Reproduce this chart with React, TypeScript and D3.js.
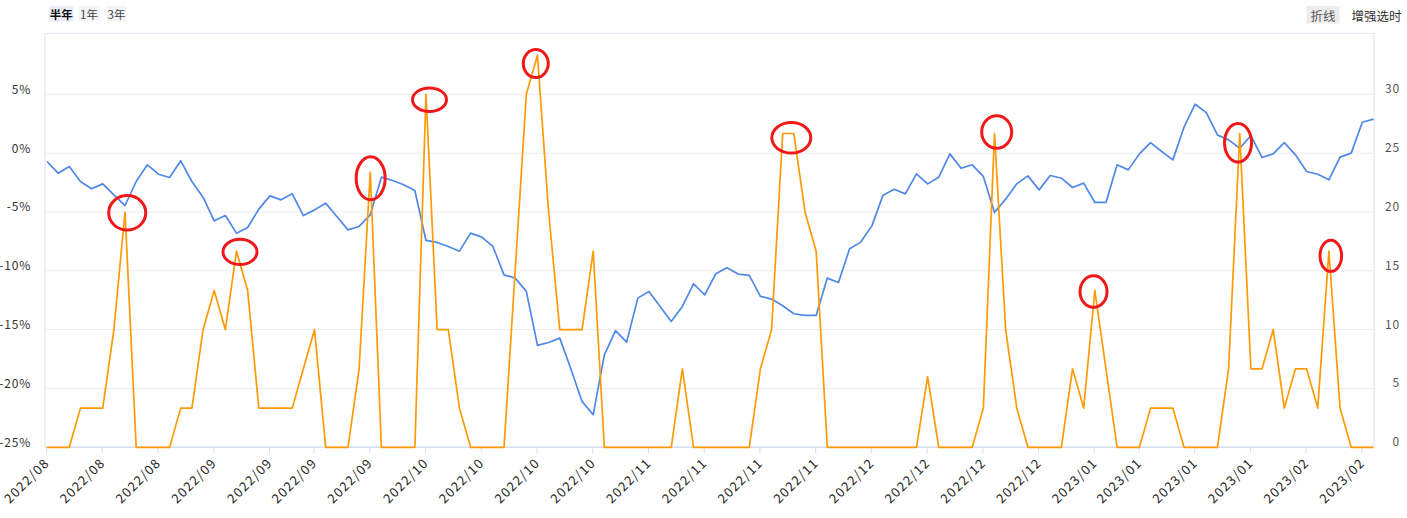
import React from "react";
import * as d3 from "d3";

// Blue line: return (%), left axis
const returnPct = [
  -0.71, -1.70, -1.14, -2.41, -3.03, -2.61, -3.54, -4.45, -2.41, -0.99,
  -1.79, -2.07, -0.65, -2.41, -3.74, -5.75, -5.30, -6.80, -6.32, -4.76,
  -3.63, -3.97, -3.46, -5.30, -4.82, -4.25, -5.38, -6.52, -6.23, -5.24,
  -2.04, -2.32, -2.69, -3.17, -7.42, -7.59, -7.93, -8.33, -6.80, -7.14,
  -7.93, -10.34, -10.62, -11.75, -16.34, -16.09, -15.72, -18.35, -21.10, -22.23,
  -17.14, -15.09, -16.06, -12.32, -11.75, -13.03, -14.30, -13.03, -11.10, -12.04,
  -10.25, -9.74, -10.28, -10.39, -12.17, -12.40, -12.97, -13.65, -13.79, -13.79,
  -10.62, -10.99, -8.13, -7.56, -6.18, -3.57, -3.06, -3.46, -1.76, -2.61,
  -2.04, -0.06, -1.28, -0.99, -1.98, -5.04, -3.91, -2.61, -1.93, -3.12,
  -1.90, -2.13, -2.92, -2.55, -4.19, -4.19, -0.99, -1.42, -0.06, 0.90,
  0.14, -0.57, 2.21, 4.16, 3.45, 1.55, 1.13, 0.42, 1.50, -0.37,
  -0.06, 0.90, -0.14, -1.56, -1.79, -2.27, -0.34, 0.00, 2.63, 2.89,
];

// Orange line: signal value, right axis
const signalValues = [
  0, 0, 0, 3.33, 3.33, 3.33, 10, 20, 0, 0,
  0, 0, 3.33, 3.33, 10, 13.33, 10, 16.67, 13.33, 3.33,
  3.33, 3.33, 3.33, 6.67, 10, 0, 0, 0, 6.67, 23.4,
  0, 0, 0, 0, 30, 10, 10, 3.33, 0, 0,
  0, 0, 15, 30, 33.33, 20, 10, 10, 10, 16.67,
  0, 0, 0, 0, 0, 0, 0, 6.67, 0, 0,
  0, 0, 0, 0, 6.67, 10, 26.67, 26.67, 20, 16.67,
  0, 0, 0, 0, 0, 0, 0, 0, 0, 6.0,
  0, 0, 0, 0, 3.33, 26.67, 10, 3.33, 0, 0,
  0, 0, 6.67, 3.33, 13.33, 6.67, 0, 0, 0, 3.33,
  3.33, 3.33, 0, 0, 0, 0, 6.67, 26.67, 6.67, 6.67,
  10, 3.33, 6.67, 6.67, 3.33, 16.67, 3.33, 0, 0, 0,
];

const tickIndex = [0, 5, 10, 15, 20, 24, 29, 34, 39, 44, 49, 54, 59, 64, 69, 74, 79, 84, 89, 94, 98, 103, 108, 113, 118];
const tickLabels = [
  "2022/08", "2022/08", "2022/08", "2022/09", "2022/09", "2022/09", "2022/09",
  "2022/10", "2022/10", "2022/10", "2022/10",
  "2022/11", "2022/11", "2022/11", "2022/11",
  "2022/12", "2022/12", "2022/12", "2022/12",
  "2023/01", "2023/01", "2023/01", "2023/01",
  "2023/02", "2023/02",
];

const leftTicks = [-25, -20, -15, -10, -5, 0, 5];
const rightTicks = [0, 5, 10, 15, 20, 25, 30];

const periodButtons = ["半年", "1年", "3年"];
const modeButtons = ["折线", "增强选时"];

// Hand-drawn red circles around signal peaks
const annIndex = [7, 17, 29, 34, 44, 66, 85, 94, 107, 115];
const annDx = [2.2, 3.5, 0.4, 3.5, -1.7, 8.6, 2.2, -1.3, -1.7, 1.9];
const annDy = [0.8, 0.8, 6.3, 5.4, 8.4, 4.3, -1.5, 1.2, 9.3, 4.6];
const annRx = [18.5, 17, 14.5, 17, 12.5, 19.5, 15, 13.5, 13.5, 10.8];
const annRy = [17.3, 12.6, 21.5, 11.8, 14, 15.3, 16.2, 15.8, 19.3, 15.6];

const W = 1407;
const H = 518;
const plotLeft = 45;
const plotRight = 1374;
const plotTop = 33.5;
const plotBottom = 447.3;

export default function App() {
  const x = d3
    .scaleLinear()
    .domain([0, returnPct.length - 1])
    .range([47, 1373.5]);
  const yL = d3.scaleLinear().domain([-25, 10.17]).range([plotBottom, plotTop]);
  const yR = d3.scaleLinear().domain([0, 35.17]).range([plotBottom, plotTop]);

  const blueLine = d3
    .line<number>()
    .x((_, i) => x(i))
    .y((d) => yL(d))(returnPct) as string;
  const orangeLine = d3
    .line<number>()
    .x((_, i) => x(i))
    .y((d) => yR(d))(signalValues) as string;

  const font = '"Noto Sans CJK SC", "Noto Sans", sans-serif';
  const btnX = [49, 78.5, 106.5];
  const btnW = [24.5, 21, 20];

  return (
    <svg
      width={W}
      height={H}
      style={{ position: "absolute", left: 0, top: 0, background: "#fff" }}
      fontFamily={font}
    >
      {/* top-left period buttons */}
      {periodButtons.map((b, i) => (
        <g key={b}>
          <rect
            x={btnX[i]}
            y={6}
            width={btnW[i]}
            height={15.5}
            fill={i === 0 ? "#e9eef7" : "#f4f5f7"}
          />
          <text
            x={btnX[i] + btnW[i] / 2}
            y={14}
            textAnchor="middle"
            dominantBaseline="central"
            fontSize={11.5}
            fontWeight={i === 0 ? 700 : 400}
            fill={i === 0 ? "#111" : "#444"}
          >
            {b}
          </text>
        </g>
      ))}

      {/* top-right mode buttons */}
      <rect x={1306.5} y={6} width={33} height={17.5} fill="#ececec" />
      <text x={1323} y={15} textAnchor="middle" dominantBaseline="central" fontSize={12.5} fill="#555">
        {modeButtons[0]}
      </text>
      <text x={1351.5} y={15} dominantBaseline="central" fontSize={12.5} fill="#333">
        {modeButtons[1]}
      </text>

      {/* grid lines */}
      {leftTicks.map((t) => (
        <line
          key={"g" + t}
          x1={plotLeft}
          x2={plotRight}
          y1={yL(t)}
          y2={yL(t)}
          stroke="#ececf0"
          strokeWidth={1}
        />
      ))}
      {/* frame */}
      <line x1={plotLeft} x2={plotRight} y1={plotTop} y2={plotTop} stroke="#e3e8f2" />
      <line x1={plotLeft} x2={plotLeft} y1={plotTop} y2={plotBottom} stroke="#dbe2f0" />
      <line x1={plotRight} x2={plotRight} y1={plotTop} y2={plotBottom} stroke="#dbe2f0" />
      <line x1={plotLeft} x2={plotRight} y1={plotBottom} y2={plotBottom} stroke="#d6ddec" strokeWidth={1.5} />

      {/* x ticks */}
      {tickIndex.map((ti, k) => (
        <g key={"t" + k}>
          <line
            x1={x(ti) - 0.5}
            x2={x(ti) - 0.5}
            y1={plotBottom}
            y2={plotBottom + 6}
            stroke="#d6ddec"
          />
          <text
            transform={`translate(${x(ti) - 0.5},${plotBottom + 12.5}) rotate(-45)`}
            textAnchor="end"
            dominantBaseline="central"
            fontSize={13}
            letterSpacing={1.3}
            fill="#222"
          >
            {tickLabels[k]}
          </text>
        </g>
      ))}

      {/* left y labels */}
      {leftTicks.map((t) => (
        <text
          key={"l" + t}
          x={31}
          y={yL(t) - 6}
          textAnchor="end"
          dominantBaseline="central"
          fontSize={12}
          letterSpacing={0.8}
          fill="#333"
        >
          {t}%
        </text>
      ))}
      {/* right y labels */}
      {rightTicks.map((t) => (
        <text
          key={"r" + t}
          x={1400}
          y={yR(t) - 6.5}
          textAnchor="end"
          dominantBaseline="central"
          fontSize={12}
          letterSpacing={0.8}
          fill="#555"
        >
          {t}
        </text>
      ))}

      {/* lines */}
      <path d={blueLine} fill="none" stroke="#4f88e8" strokeWidth={1.7} strokeLinejoin="round" />
      <path d={orangeLine} fill="none" stroke="#ff9a05" strokeWidth={1.7} strokeLinejoin="round" />

      {/* red circles */}
      {annIndex.map((ai, k) => (
        <ellipse
          key={"a" + k}
          cx={x(ai) + annDx[k]}
          cy={yR(signalValues[ai]) + annDy[k]}
          rx={annRx[k]}
          ry={annRy[k]}
          fill="none"
          stroke="#f01818"
          strokeWidth={3}
        />
      ))}
    </svg>
  );
}
